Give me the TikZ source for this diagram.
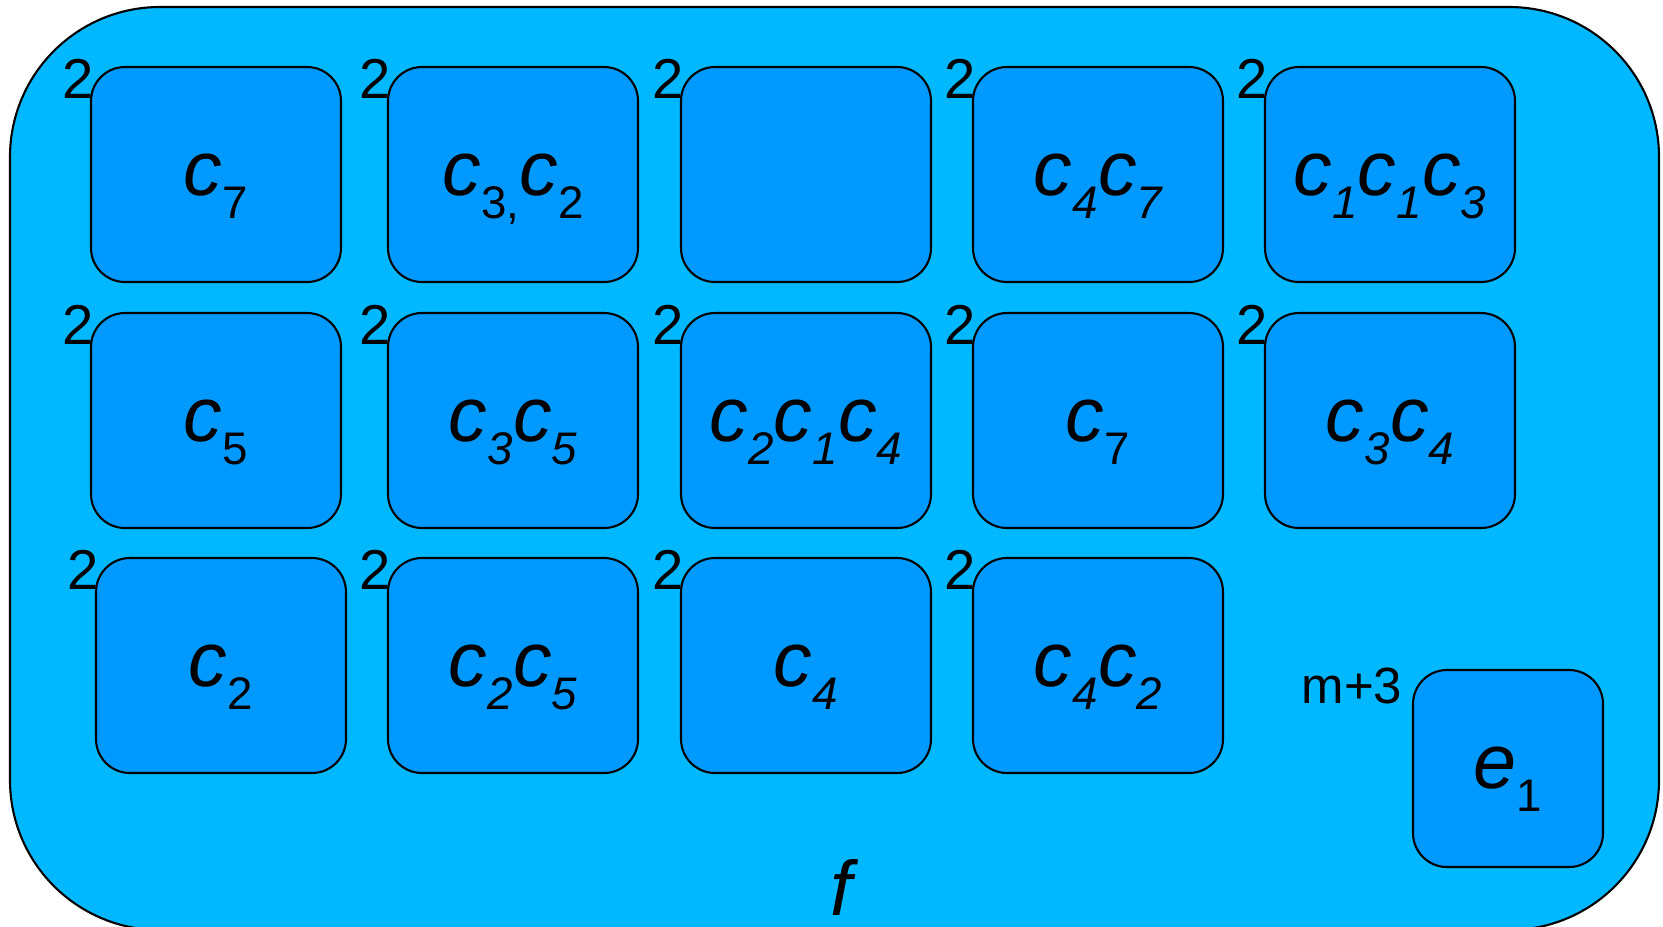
\documentclass[tikz,border=0pt]{standalone}
\usepackage{fontspec}
\setmainfont{Liberation Sans}
\usepackage{tikz}
\definecolor{outerblue}{RGB}{0,184,255}
\definecolor{cellblue}{RGB}{0,153,255}
% c with a lowered index (italic or upright index)
\newcommand{\ci}[1]{c\raisebox{-6.5pt}{\fontsize{13}{13}\selectfont #1}}
\newcommand{\cu}[1]{c\raisebox{-6.5pt}{\fontsize{13}{13}\selectfont\upshape #1}}

\begin{document}
\begin{tikzpicture}[
  cell/.style={draw=black,line width=0.6pt,fill=cellblue,rounded corners=0.34cm,
    minimum width=2.5cm,minimum height=2.15cm,inner sep=0pt},
  cnt/.style={anchor=base,inner sep=0pt,font=\fontsize{22}{26}\selectfont\itshape},
  mult/.style={anchor=base east,inner sep=0pt,font=\fontsize{16}{19}\selectfont}]
\useasboundingbox (0,0) rectangle (16.63,-9.26);
\draw[line width=0.6pt,fill=outerblue,rounded corners=1.5cm] (0.10,-0.07) rectangle (16.59,-9.30);
\foreach \p/\n/\l in {{(2.16,-1.745)}/a1/{\cu{7}},{(5.13,-1.745)}/a2/{\cu{3,}\cu{2}},
    {(8.06,-1.745)}/a3/{},{(10.98,-1.745)}/a4/{\ci{4}\ci{7}},{(13.90,-1.745)}/a5/{\ci{1}\ci{1}\ci{3}},
    {(2.16,-4.205)}/b1/{\cu{5}},{(5.13,-4.205)}/b2/{\ci{3}\ci{5}},{(8.06,-4.205)}/b3/{\ci{2}\ci{1}\ci{4}},
    {(10.98,-4.205)}/b4/{\cu{7}},{(13.90,-4.205)}/b5/{\ci{3}\ci{4}},
    {(2.21,-6.655)}/c1/{\cu{2}},{(5.13,-6.655)}/c2/{\ci{2}\ci{5}},{(8.06,-6.655)}/c3/{\ci{4}},
    {(10.98,-6.655)}/c4/{\ci{4}\ci{2}}}
  {\node[cell] (\n) at \p {};
   \node[cnt] (\n-t) at ([yshift=-1.30cm]\n.north) {\l};
   \node[mult] (\n-m) at ([xshift=0.05cm,yshift=-0.33cm]\n.north west) {2};}
\node[cell,minimum width=1.9cm,minimum height=1.97cm] (e1) at (15.08,-7.685) {};
\node[cnt] (e1-t) at ([yshift=-1.20cm]e1.north)
  {e\raisebox{-6.5pt}{\fontsize{13}{13}\selectfont\upshape 1}};
\node[mult,font=\fontsize{14.5}{17}\selectfont] (e1-m) at ([xshift=-0.09cm,yshift=-0.35cm]e1.north west) {m+3};
\node[cnt] (f) at (8.41,-9.15) {f};
\end{tikzpicture}
\end{document}
